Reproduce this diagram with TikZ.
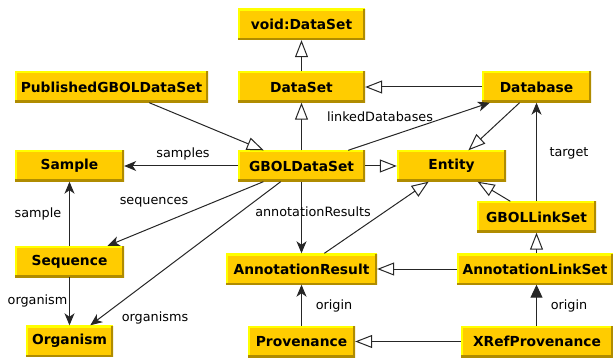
\documentclass[tikz,border=0pt]{standalone}
\usepackage{fontspec}
\setmainfont{DejaVu Sans}
\usetikzlibrary{arrows.meta}
\definecolor{boxfill}{HTML}{FFCC00}
\definecolor{boxlight}{HTML}{FFFF00}
\definecolor{boxdark}{HTML}{B08C00}
\tikzset{
  umlbox/.style={fill=boxfill, inner sep=0pt, minimum height=31pt,
    font=\bfseries\fontsize{13.8}{16}\selectfont,
    path picture={
      \draw[boxlight, line width=4pt] (path picture bounding box.south west) -- (path picture bounding box.north west) -- (path picture bounding box.north east);
      \draw[boxdark, line width=4pt] (path picture bounding box.north east) -- (path picture bounding box.south east) -- (path picture bounding box.south west);
    }},
  lbl/.style={font=\fontsize{12.8}{15}\selectfont, inner sep=0pt},
  conn/.style={draw=black!85, line width=1pt},
  gen/.style={conn, -{Triangle[length=17pt,width=13pt,fill=white,line width=1pt]}},
  assoc/.style={conn, -{Stealth[length=12pt,width=10pt,inset=3.5pt]}},
  assocT/.style={conn, -{Triangle[length=13pt,width=12pt]}}
}
\begin{document}
\begin{tikzpicture}[x=1pt,y=-1pt]
\useasboundingbox (0,0) rectangle (613,358);
% nodes
\node[umlbox, minimum width=127pt] (void) at (301.5,24.5) {void:DataSet};
\node[umlbox, minimum width=127pt] (dataset) at (301.5,87) {DataSet};
\node[umlbox, minimum width=193pt] (published) at (111.5,87) {PublishedGBOLDataSet};
\node[umlbox, minimum width=109pt] (database) at (536.5,87) {Database};
\node[umlbox, minimum width=109pt] (sample) at (69.5,166) {Sample};
\node[umlbox, minimum width=127pt] (gbol) at (301.5,166) {GBOLDataSet};
\node[umlbox, minimum width=109pt] (entity) at (451.5,166) {Entity};
\node[umlbox, minimum width=119pt] (linkset) at (536.5,217) {GBOLLinkSet};
\node[umlbox, minimum width=109pt] (sequence) at (69.5,261.5) {Sequence};
\node[umlbox, minimum width=151pt] (annres) at (301.5,269) {AnnotationResult};
\node[umlbox, minimum width=156pt] (annlink) at (535,269) {AnnotationLinkSet};
\node[umlbox, minimum width=87pt] (organism) at (69.5,341) {Organism};
\node[umlbox, minimum width=107pt] (prov) at (301.5,341.5) {Provenance};
\node[umlbox, minimum width=152pt] (xref) at (537,341.5) {XRefProvenance};
% generalizations
\draw[gen] (dataset) -- (void);
\draw[gen] (database) -- (dataset);
\draw[gen] (gbol) -- (dataset);
\draw[gen] (published) -- (gbol);
\draw[gen] (gbol) -- (entity);
\draw[gen] (database) -- (entity);
\draw[gen] (linkset) -- (entity);
\draw[gen] (annres) -- (entity);
\draw[gen] (annlink) -- (annres);
\draw[gen] (annlink.north -| linkset.south) -- (linkset.south);
\draw[gen] (xref) -- (prov);
% associations
\draw[assoc] (linkset) -- (database);
\draw[assoc] (gbol) -- (database);
\draw[assoc] (gbol) -- (sample);
\draw[assoc] (gbol) -- (sequence);
\draw[assoc] (gbol) -- (organism);
\draw[assoc] (gbol) -- (annres);
\draw[assoc] (prov) -- (annres);
\draw[assocT] (xref.north -| linkset.south) -- (annlink.south -| linkset.south);
\draw[assoc] (sequence) -- (sample);
\draw[assoc] (sequence) -- (organism);
% labels
\node[lbl] (ltarget) at (569,153) {target};
\node[lbl] (llinked) at (380,117) {linkedDatabases};
\node[lbl] (lsamples) at (183,154) {samples};
\node[lbl] (lsequences) at (154,202) {sequences};
\node[lbl] (lorganisms) at (155,318) {organisms};
\node[lbl] (lannres) at (313,212) {annotationResults};
\node[lbl] (lorigin1) at (334,306) {origin};
\node[lbl] (lorigin2) at (569,306) {origin};
\node[lbl] (lsample) at (38,214) {sample};
\node[lbl] (lorganism) at (37.5,301) {organism};
\end{tikzpicture}
\end{document}
